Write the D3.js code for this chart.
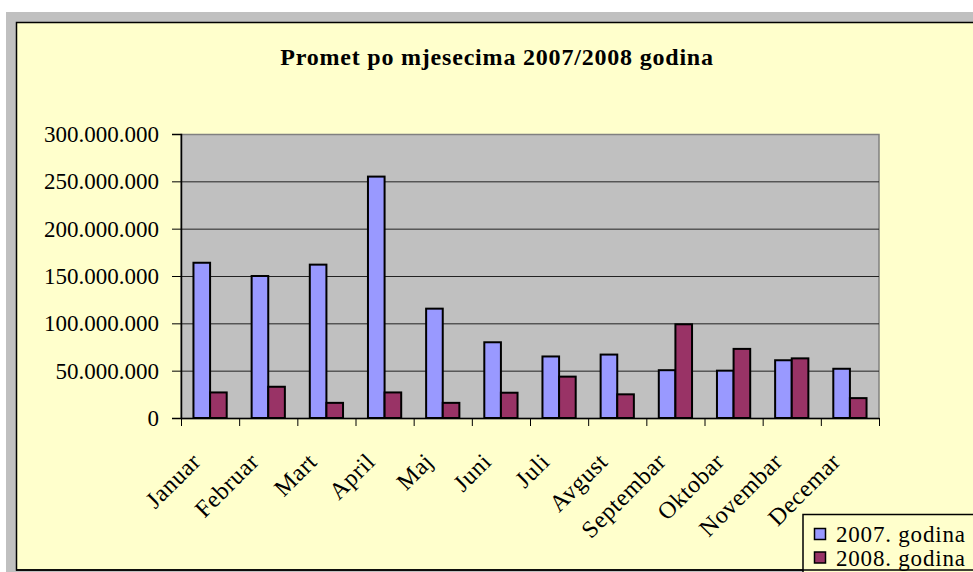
<!DOCTYPE html>
<html>
<head>
<meta charset="utf-8">
<script src="https://cdn.jsdelivr.net/npm/d3@7.9.0/dist/d3.min.js"></script>
<style>
  body { margin: 0; background: #fff; }
  svg { display: block; font-family: "Liberation Serif", "Times New Roman", serif; }
</style>
</head>
<body>
<div id="chart"></div>
<script>
const months = ['Januar', 'Februar', 'Mart', 'April', 'Maj', 'Juni', 'Juli', 'Avgust', 'Septembar', 'Oktobar', 'Novembar', 'Decemar'];
const series = ['2007. godina', '2008. godina'];
const values2007 = [164000000, 150000000, 162000000, 255000000, 115500000, 80000000, 65000000, 67000000, 50500000, 50000000, 61000000, 52000000];
const values2008 = [27000000, 33000000, 16000000, 27000000, 16000000, 26700000, 43700000, 25000000, 99000000, 73000000, 63000000, 21000000];
const yTicks = [0, 50000000, 100000000, 150000000, 200000000, 250000000, 300000000];
const title = 'Promet po mjesecima 2007/2008 godina';

const colors = ['#9999ff', '#993366'];

const width = 973;
const height = 572;

const svg = d3.select('#chart')
  .append('svg')
  .attr('width', width)
  .attr('height', height);

// outer gray frame and chart area
svg.append('rect').attr('x', 6).attr('y', 12).attr('width', width).attr('height', height)
  .attr('fill', '#c0c0c0');
svg.append('rect').attr('x', 16.5).attr('y', 22.5).attr('width', width).attr('height', 547.5)
  .attr('fill', '#ffffcc').attr('stroke', '#000').attr('stroke-width', 1.5);

const plot = { left: 181, right: 879, top: 134, bottom: 418 };

const x = d3.scaleBand().domain(months).range([plot.left, plot.right]);
const xSeries = d3.scaleBand().domain(series).range([0, x.bandwidth()]).paddingOuter(0.75);
const y = d3.scaleLinear().domain([0, 300000000]).range([plot.bottom, plot.top]);

const locale = d3.formatLocale({ decimal: ',', thousands: '.', grouping: [3], currency: ['', ''] });
const fmt = locale.format(',d');

// plot background
svg.append('rect')
  .attr('x', plot.left).attr('y', plot.top + 0.5)
  .attr('width', plot.right - plot.left).attr('height', plot.bottom - plot.top)
  .attr('fill', '#c0c0c0').attr('stroke', '#808080').attr('stroke-width', 1.5);

// gridlines
svg.append('g')
  .attr('transform', `translate(${plot.left}, 0)`)
  .call(d3.axisLeft(y).tickValues(yTicks.slice(1, -1)).tickFormat('').tickSize(-(plot.right - plot.left)))
  .call(g => g.select('.domain').remove())
  .call(g => g.selectAll('line').attr('stroke', '#222').attr('stroke-width', 1));

// bars
const rows = months.map((m, i) => ({ month: m, vals: [values2007[i], values2008[i]] }));
svg.append('g')
  .selectAll('g')
  .data(rows)
  .join('g')
  .attr('transform', d => `translate(${x(d.month)}, 0)`)
  .selectAll('rect')
  .data(d => d.vals.map((v, k) => ({ key: series[k], v, k })))
  .join('rect')
  .attr('x', d => xSeries(d.key))
  .attr('y', d => y(d.v))
  .attr('width', xSeries.bandwidth())
  .attr('height', d => y(0) - y(d.v))
  .attr('fill', d => colors[d.k])
  .attr('stroke', '#000')
  .attr('stroke-width', 2);

// y axis
svg.append('g')
  .attr('transform', `translate(${plot.left}, 0)`)
  .call(d3.axisLeft(y).tickValues(yTicks).tickFormat(fmt).tickSize(9).tickPadding(13))
  .call(g => g.select('.domain').attr('stroke', '#000').attr('stroke-width', 1.5))
  .call(g => g.selectAll('line').attr('stroke', '#000'))
  .call(g => g.selectAll('text').attr('font-size', 23).attr('fill', '#000')
    .attr('font-family', '"Liberation Serif", serif'));

// x axis (ticks on category boundaries)
const xb = d3.scaleLinear().domain([0, months.length]).range([plot.left, plot.right]);
svg.append('g')
  .attr('transform', `translate(0, ${plot.bottom})`)
  .call(d3.axisBottom(xb).ticks(months.length).tickFormat('').tickSize(8).tickSizeOuter(0))
  .call(g => g.select('.domain').attr('stroke', '#000').attr('stroke-width', 1.5))
  .call(g => g.selectAll('line').attr('stroke', '#000'));

// x labels
svg.append('g')
  .selectAll('text')
  .data(months)
  .join('text')
  .attr('transform', d => `translate(${x(d) + x.bandwidth() / 2 - 8}, 463) rotate(-45)`)
  .attr('text-anchor', 'end')
  .attr('font-size', 24)
  .attr('letter-spacing', 0.6)
  .text(d => d);

// title
svg.append('text')
  .attr('x', 497).attr('y', 65)
  .attr('text-anchor', 'middle')
  .attr('font-size', 24)
  .attr('font-weight', 'bold')
  .attr('letter-spacing', 0.8)
  .text(title);

// legend
const legend = svg.append('g');
legend.append('rect')
  .attr('x', 803).attr('y', 514.5).attr('width', 200).attr('height', 60)
  .attr('fill', '#ffffcc').attr('stroke', '#000').attr('stroke-width', 1.5);
series.forEach((s, i) => {
  legend.append('rect')
    .attr('x', 814.5).attr('y', 528.5 + i * 23.5).attr('width', 11).attr('height', 11)
    .attr('fill', colors[i]).attr('stroke', '#000').attr('stroke-width', 1.5);
  legend.append('text')
    .attr('x', 836).attr('y', 542 + i * 23.5)
    .attr('font-size', 23)
    .attr('letter-spacing', 0.8)
    .text(s);
});
// chart area bottom border over the legend
svg.append('line').attr('x1', 16).attr('x2', width).attr('y1', 570).attr('y2', 570)
  .attr('stroke', '#000').attr('stroke-width', 1.5);
</script>
</body>
</html>
